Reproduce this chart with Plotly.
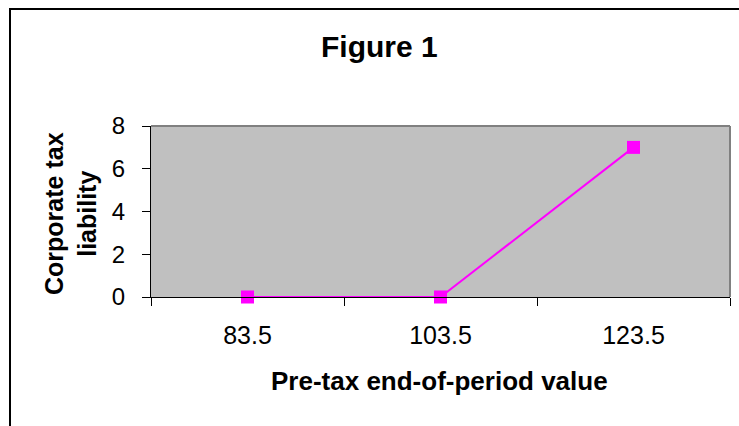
import plotly.graph_objects as go

categories = ["83.5", "103.5", "123.5"]
tax_liability = [0, 0, 7]
y_ticks = [0, 2, 4, 6, 8]

W, H = 739, 426
L, R, T, B = 151, 730, 126, 297
pw, ph = R - L, B - T

def px_x(x):
    return (x - L) / pw

def px_y(y):
    return (B - y) / ph

FONT = "Liberation Sans, Arial, sans-serif"

fig = go.Figure()
fig.add_trace(go.Scatter(
    x=categories, y=tax_liability, mode="lines+markers",
    line=dict(color="#FF00FF", width=2),
    marker=dict(symbol="square", size=13, color="#FF00FF"),
    cliponaxis=False, showlegend=False,
))

fig.update_layout(
    width=W, height=H,
    margin=dict(l=L, r=W - R, t=T, b=H - B, pad=0),
    paper_bgcolor="white", plot_bgcolor="#C0C0C0",
    font=dict(family=FONT, color="black"),
    xaxis=dict(
        type="category", range=[-0.5, 2.5], tickson="boundaries",
        ticks="outside", ticklen=8, tickcolor="black", tickwidth=1,
        showline=True, linecolor="black", linewidth=1, mirror=False,
        showgrid=False, zeroline=False, ticklabelstandoff=16,
        tickfont=dict(size=25, family=FONT, color="black"),
    ),
    yaxis=dict(
        range=[0, 8], tickvals=y_ticks, ticktext=[str(v) for v in y_ticks],
        ticks="outside", ticklen=8, tickcolor="black", tickwidth=1,
        showline=True, linecolor="black", linewidth=1,
        showgrid=False, zeroline=False, ticklabelstandoff=12,
        tickfont=dict(size=24, family=FONT, color="black"),
    ),
    shapes=[
        dict(type="line", xref="paper", yref="paper", x0=0, x1=1, y0=1, y1=1,
             line=dict(color="#808080", width=2)),
        dict(type="line", xref="paper", yref="paper", x0=1, x1=1, y0=0, y1=1,
             line=dict(color="#808080", width=2)),
        dict(type="rect", xref="paper", yref="paper",
             x0=px_x(10), x1=px_x(760), y0=px_y(440), y1=px_y(9),
             line=dict(color="black", width=2), fillcolor="rgba(0,0,0,0)",
             layer="below"),
    ],
    annotations=[
        dict(text="<b>Figure 1</b>", xref="paper", yref="paper",
             x=px_x(379), y=px_y(46), showarrow=False,
             xanchor="center", yanchor="middle",
             font=dict(size=30, family=FONT, color="black")),
        dict(text="<b>Pre-tax end-of-period value</b>", xref="paper", yref="paper",
             x=px_x(439), y=px_y(381), showarrow=False,
             xanchor="center", yanchor="middle",
             font=dict(size=26, family=FONT, color="black")),
        dict(text="<b>Corporate tax<br>liability</b>", xref="paper", yref="paper",
             x=px_x(70), y=px_y(214), showarrow=False, textangle=-90,
             xanchor="center", yanchor="middle",
             font=dict(size=25, family=FONT, color="black")),
    ],
)

fig.write_html("out.html", config={"displayModeBar": False},
               post_script="document.body.style.margin='0';document.body.style.overflow='hidden';")
